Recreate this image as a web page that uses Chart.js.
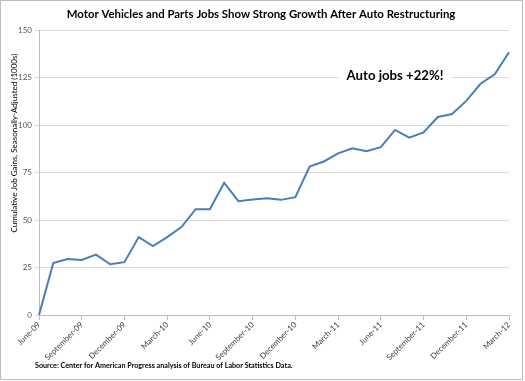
<!DOCTYPE html>
<html>
<head>
<meta charset="utf-8">
<script src="https://cdn.jsdelivr.net/npm/chart.js@4/dist/chart.umd.min.js"></script>
<style>
html,body{margin:0;padding:0;background:#fff;}
#wrap{width:525px;height:381px;position:relative;}
</style>
</head>
<body>
<div id="wrap"><canvas id="c" width="525" height="381"></canvas></div>
<script>
const categories = ["June-09","July-09","August-09","September-09","October-09","November-09","December-09",
"January-10","February-10","March-10","April-10","May-10","June-10","July-10","August-10","September-10","October-10","November-10","December-10",
"January-11","February-11","March-11","April-11","May-11","June-11","July-11","August-11","September-11","October-11","November-11","December-11",
"January-12","February-12","March-12"];
const jobGains = [0, 27.3, 29.5, 29, 31.8, 26.7, 27.8, 41, 36.3, 41, 46.3, 55.7, 55.7, 69.6, 59.9, 60.8, 61.5, 60.6, 62,
78.1, 80.8, 85.1, 87.7, 86.2, 88.3, 97.4, 93.3, 96.1, 104.2, 105.8, 112.7, 121.7, 126.7, 138.3];
const yTicks = [0, 25, 50, 75, 100, 125, 150];
const titleText = "Motor Vehicles and Parts Jobs Show Strong Growth After Auto Restructuring";
const yTitleText = "Cumulative Job Gains, Seasonally-Adjusted (1000s)";
const sourceText = "Source: Center for American Progress analysis of Bureau of Labor Statistics Data.";
const annotationText = "Auto jobs +22%!";
const annotationAt = {index: 25, value: 125};

const FONT = "Lato, 'Open Sans', sans-serif";

const decor = {
  id: 'decor',
  beforeDraw(chart) {
    const ctx = chart.ctx;
    ctx.save();
    ctx.fillStyle = '#fff';
    ctx.fillRect(0, 0, chart.width, chart.height);
    ctx.restore();
  },
  afterDraw(chart) {
    const ctx = chart.ctx;
    const xs = chart.scales.x, ys = chart.scales.y;
    ctx.save();
    // title
    ctx.fillStyle = '#000';
    ctx.font = "bold 11.4px " + FONT;
    ctx.textAlign = 'center';
    ctx.textBaseline = 'middle';
    ctx.fillText(titleText, 261, 14);
    // y title
    ctx.save();
    ctx.translate(14, 143);
    ctx.rotate(-Math.PI / 2);
    ctx.font = "8px " + FONT;
    ctx.fillText(yTitleText, 0, 0);
    ctx.restore();
    // source
    ctx.font = "bold 7.2px " + FONT;
    ctx.textAlign = 'left';
    ctx.fillText(sourceText, 35, 366);
    // annotation
    const ax = xs.getPixelForValue(annotationAt.index);
    const ay = ys.getPixelForValue(annotationAt.value) - 2;
    ctx.font = "bold 13.2px " + FONT;
    ctx.textAlign = 'center';
    const w = ctx.measureText(annotationText).width;
    ctx.fillStyle = '#fff';
    ctx.fillRect(ax - w / 2 - 8, ay - 9, w + 16, 18);
    ctx.fillStyle = '#000';
    ctx.fillText(annotationText, ax, ay);
    // outer border
    ctx.strokeStyle = '#bdbdbd';
    ctx.lineWidth = 1;
    ctx.strokeRect(0.5, 0.5, 522, 379);
    ctx.restore();
  }
};

new Chart(document.getElementById('c'), {
  type: 'line',
  data: {
    labels: categories,
    datasets: [{
      data: jobGains,
      borderColor: '#4a7ebb',
      borderWidth: 2,
      pointRadius: 0,
      tension: 0,
      fill: false
    }]
  },
  options: {
    responsive: false,
    animation: false,
    devicePixelRatio: 1,
    layout: {padding: {top: 30, right: 16, left: 0, bottom: 0}},
    plugins: {legend: {display: false}, title: {display: false}, tooltip: {enabled: false}},
    scales: {
      x: {
        offset: false,
        afterFit(s) { s.height = 66; },
        grid: {
          drawOnChartArea: false,
          tickLength: 5,
          color: (c) => (c.index % 3 === 0 ? '#bdbdbd' : 'rgba(0,0,0,0)')
        },
        border: {color: '#bdbdbd'},
        ticks: {
          autoSkip: false,
          maxRotation: 45,
          minRotation: 45,
          padding: 0,
          color: '#404040',
          font: {family: FONT, size: 8},
          callback: function(v, i) { return i % 3 === 0 ? categories[i] : ''; }
        }
      },
      y: {
        min: 0,
        max: 150,
        afterFit(s) { s.width = 39; },
        afterBuildTicks(s) { s.ticks = yTicks.map(v => ({value: v})); },
        grid: {color: '#d9d9d9', tickLength: 4},
        border: {color: '#bdbdbd'},
        ticks: {
          padding: 3,
          color: '#595959',
          font: {family: FONT, size: 8}
        }
      }
    }
  },
  plugins: [decor]
});
</script>
</body>
</html>
